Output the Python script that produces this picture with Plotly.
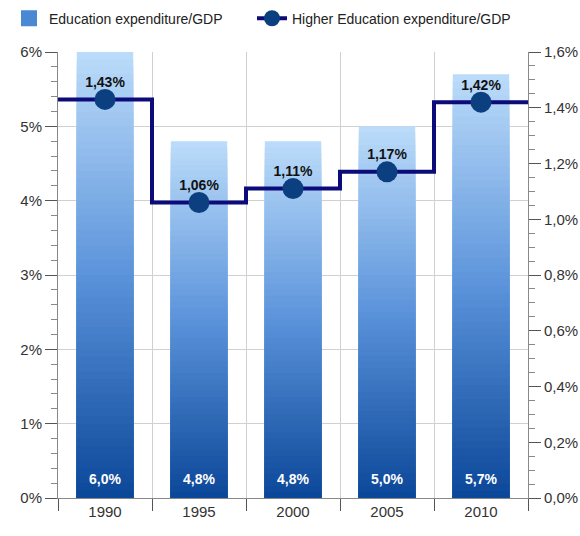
import plotly.graph_objects as go

# Expenditure shares of GDP by year
years = ["1990", "1995", "2000", "2005", "2010"]
edu_gdp = [6.0, 4.8, 4.8, 5.0, 5.7]              # %, left axis
higher_edu_gdp = [1.43, 1.06, 1.11, 1.17, 1.42]  # %, right axis

left_ticks = [0, 1, 2, 3, 4, 5, 6]
right_ticks = [0.0, 0.2, 0.4, 0.6, 0.8, 1.0, 1.2, 1.4, 1.6]

# vertical gradient stops for the bars (bottom -> top)
grad_stops = [(0.0, (11, 71, 153)), (0.5, (91, 147, 218)), (1.0, (188, 220, 250))]
N_LAYERS = 60

FONT = "Liberation Sans, Arial"


def grad_color(t):
    for (t0, c0), (t1, c1) in zip(grad_stops[:-1], grad_stops[1:]):
        if t <= t1:
            f = (t - t0) / (t1 - t0)
            return "rgb(%d,%d,%d)" % tuple(round(a + (b - a) * f) for a, b in zip(c0, c1))
    return "rgb(%d,%d,%d)" % grad_stops[-1][1]


def pct(v, nd):
    return f"{v:.{nd}f}%".replace(".", ",")


fig = go.Figure()

# gradient bars: full-height light layer first, progressively shorter darker layers over it
for k in range(N_LAYERS):
    frac = (N_LAYERS - k) / N_LAYERS
    t = (N_LAYERS - k - 0.5) / N_LAYERS
    fig.add_trace(go.Bar(
        x=years, y=[v * frac for v in edu_gdp],
        marker=dict(color=grad_color(t), line=dict(width=0)),
        showlegend=False, hoverinfo="skip",
    ))

# value labels near the base of each bar
fig.add_trace(go.Scatter(
    x=years, y=[0] * len(years),
    mode="markers+text",
    marker=dict(size=16, opacity=0),
    text=[pct(v, 1) for v in edu_gdp],
    textposition="top center",
    textfont=dict(family=FONT, size=14, color="white", weight="bold"),
    showlegend=False, hoverinfo="skip", cliponaxis=False,
))

# legend entry for the bars
fig.add_trace(go.Scatter(
    x=[None], y=[None], name="Education expenditure/GDP", mode="markers",
    marker=dict(color="#4a88d4", symbol="square", size=18, line=dict(width=0)),
    showlegend=True, legend="legend",
))

# step line spanning the full width, changing at category boundaries
idx = list(range(len(years)))
step_x = [-0.5] + idx + [len(years) - 0.5]
step_y = [higher_edu_gdp[0]] + higher_edu_gdp + [higher_edu_gdp[-1]]
fig.add_trace(go.Scatter(
    x=step_x, y=step_y, xaxis="x2", yaxis="y2",
    mode="lines", line=dict(color="#0b0b7a", width=4, shape="hvh"),
    showlegend=False, hoverinfo="skip",
))

# point markers
fig.add_trace(go.Scatter(
    x=idx, y=higher_edu_gdp, xaxis="x2", yaxis="y2",
    mode="markers",
    marker=dict(color="#0c3f80", size=21, line=dict(width=0)),
    showlegend=False, hoverinfo="skip",
))

# value labels sitting just on top of the markers
fig.add_trace(go.Scatter(
    x=idx, y=higher_edu_gdp, xaxis="x2", yaxis="y2",
    mode="markers+text",
    marker=dict(size=13, opacity=0),
    text=[pct(v, 2) for v in higher_edu_gdp],
    textposition="top center",
    textfont=dict(family=FONT, size=14, color="#111111", weight="bold"),
    showlegend=False, hoverinfo="skip",
))

# legend entry for the line series
fig.add_trace(go.Scatter(
    x=[None], y=[None], xaxis="x2", yaxis="y2", mode="lines+markers",
    name="Higher Education expenditure/GDP",
    marker=dict(color="#0c3f80", size=21), line=dict(color="#0b0b7a", width=4),
    showlegend=True, legend="legend2",
))

axis_font = dict(family=FONT, size=15, color="#333333")
legend_font = dict(family=FONT, size=14, color="#222222")

fig.update_layout(
    width=580, height=536,
    margin=dict(l=58, r=52, t=52, b=38, autoexpand=False),
    paper_bgcolor="white", plot_bgcolor="white",
    barmode="overlay", bargap=0.4,
    separators=",.",
    showlegend=True,
    legend=dict(
        orientation="h", x=9 / 580, y=0.995, xref="container", yref="container",
        xanchor="left", yanchor="top", font=legend_font, itemwidth=30,
    ),
    legend2=dict(
        orientation="h", x=252 / 580, y=0.995, xref="container", yref="container",
        xanchor="left", yanchor="top", font=legend_font, itemwidth=30,
    ),
    xaxis=dict(
        type="category", tickson="boundaries", ticks="outside", ticklen=12,
        tickcolor="#555555", showgrid=True, gridcolor="#d0d0d0",
        showline=True, linecolor="#888888",
        tickfont=axis_font, range=[-0.5, 4.5],
    ),
    xaxis2=dict(overlaying="x", range=[-0.5, 4.5], visible=False),
    yaxis=dict(
        range=[0, 6], tickvals=left_ticks,
        ticktext=[f"{v}%" for v in left_ticks],
        ticks="outside", ticklen=12, tickcolor="#555555",
        showgrid=True, gridcolor="#d0d0d0",
        showline=True, linecolor="#888888",
        zeroline=False, tickfont=axis_font,
        minor=dict(dtick=0.2, ticks="outside", ticklen=6, tickcolor="#888888", showgrid=False),
    ),
    yaxis2=dict(
        overlaying="y", side="right", range=[0, 1.6], tickvals=right_ticks,
        ticktext=[pct(v, 1) for v in right_ticks],
        ticks="outside", ticklen=12, tickcolor="#555555",
        showgrid=False, showline=True, linecolor="#888888",
        zeroline=False, tickfont=axis_font,
        minor=dict(dtick=0.05, ticks="outside", ticklen=6, tickcolor="#888888", showgrid=False),
    ),
)

fig.write_html("out.html")
